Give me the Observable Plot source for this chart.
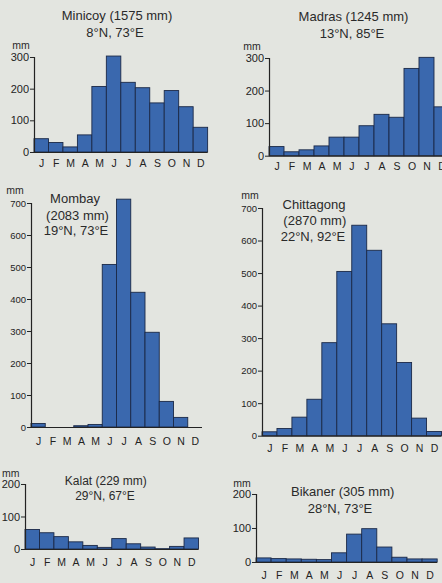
<!DOCTYPE html>
<html><head><meta charset="utf-8">
<script src="https://cdn.jsdelivr.net/npm/d3@7"></script>
<script src="https://cdn.jsdelivr.net/npm/@observablehq/plot@0.6"></script>
<style>
html,body{margin:0;padding:0;background:#e3e5e0;}
#page{position:relative;width:442px;height:583px;overflow:hidden;background:#e3e5e0;font-family:"Liberation Sans",Arial,sans-serif;color:#2a2a2a;}
.lbl{position:absolute;white-space:nowrap;transform:translateX(-50%);line-height:1;}
.plot{position:absolute;}
</style></head><body><div id="page"></div>
<script>
// ---- data ----
const monthLabels = ["J","F","M","A","M","J","J","A","S","O","N","D"];
const stationNames = ["Minicoy","Madras","Mombay","Chittagong","Kalat","Bikaner"];
const stationTotals = ["1575 mm","1245 mm","2083 mm","2870 mm","229 mm","305 mm"];
const stationCoords = ["8°N, 73°E","13°N, 85°E","19°N, 73°E","22°N, 92°E","29°N, 67°E","28°N, 73°E"];
const minicoy    = [42, 30, 16, 54, 207, 303, 220, 203, 155, 194, 143, 78];
const madras     = [28, 12, 18, 30, 57, 57, 92, 127, 118, 268, 302, 150];
const mombay     = [11, 0, 0, 4, 8, 508, 712, 421, 296, 80, 30, 0];
const chittagong = [12, 22, 57, 112, 286, 505, 647, 570, 344, 225, 54, 13];
const kalat      = [60, 50, 38, 22, 11, 5, 32, 16, 6, 1, 8, 34];
const bikaner    = [12, 10, 9, 8, 7, 27, 82, 98, 44, 14, 9, 9];
const ticks300 = [0, 100, 200, 300];
const ticks700 = [0, 100, 200, 300, 400, 500, 600, 700];
const ticks200 = [0, 100, 200];
const series = [minicoy, madras, mombay, chittagong, kalat, bikaner];

// ---- layout (page pixel positions) ----
const layout = [
  {ax: 34,    bw: 14.47, y0: 152,   yTop: 57,    top: 300, ticks: ticks300, tfs: 11,  mpad: 7, fs: 13,
   title: [[117, 15], [115, 32.5]], mm: [21, 45], split: false},
  {ax: 268.7, bw: 15,    y0: 155.7, yTop: 58,    top: 300, ticks: ticks300, tfs: 11,  mpad: 6, fs: 13,
   title: [[353.5, 16.5], [352, 33]], mm: [252, 46.5], split: false},
  {ax: 30.5,  bw: 14.25, y0: 427.3, yTop: 203.3, top: 700, ticks: ticks700, tfs: 9.5, mpad: 10, fs: 13,
   title: [[75, 198.3], [77.5, 215], [76, 230]], mm: [15, 190.5], split: true},
  {ax: 261.5, bw: 14.96, y0: 436,   yTop: 208.3, top: 700, ticks: ticks700, tfs: 9.5, mpad: 8, fs: 13,
   title: [[314, 204.3], [314.8, 220], [313, 236.7]], mm: [250, 195.7], split: true},
  {ax: 24.5,  bw: 14.46, y0: 549,   yTop: 484,   top: 200, ticks: ticks200, tfs: 11,  mpad: 9, fs: 12,
   title: [[105.8, 481.2], [105, 495.5]], mm: [10.8, 473.3], split: false},
  {ax: 256,   bw: 15.1,  y0: 562,   yTop: 494,   top: 200, ticks: ticks200, tfs: 11,  mpad: 9, fs: 13,
   title: [[342.7, 491.7], [340, 508.3]], mm: [242, 483.3], split: false}
];

const page = document.getElementById("page");
const ink = "#232323";

function addLabel(text, cx, cy, fs) {
  const d = document.createElement("div");
  d.className = "lbl";
  d.textContent = text;
  d.style.fontSize = fs + "px";
  d.style.left = cx + "px";
  d.style.top = (cy - fs / 2) + "px";
  page.appendChild(d);
}

series.forEach((values, k) => {
  const L = layout[k];
  const mL = 30, mR = 2, mT = 14, mB = 24;
  const width = mL + 12 * L.bw + mR;
  const height = (L.y0 - L.yTop) + mT + mB;
  const data = values.map((v, i) => ({i, v}));
  const svg = Plot.plot({
    width, height,
    marginLeft: mL, marginRight: mR, marginTop: mT, marginBottom: mB,
    style: {background: "transparent", fontFamily: "Liberation Sans, Arial, sans-serif", color: ink, overflow: "visible"},
    x: {domain: [0, 12]},
    y: {domain: [0, L.top]},
    marks: [
      Plot.rect(data, {x1: "i", x2: d => d.i + 1, y1: () => 0, y2: "v",
        fill: "#3a68ae", stroke: "#1b2947", strokeWidth: 0.9}),
      Plot.ruleY([0], {x1: 0, x2: 12, stroke: ink, strokeWidth: 1.2}),
      Plot.ruleX([0], {y1: 0, y2: L.top, stroke: ink, strokeWidth: 1.2}),
      Plot.axisY({ticks: L.ticks, tickSize: 4, tickPadding: 1.5, fontSize: L.tfs, label: null}),
      Plot.axisX({ticks: d3.range(12).map(i => i + 0.5), tickFormat: t => monthLabels[Math.floor(t)],
        tickSize: 0, tickPadding: L.mpad, fontSize: 10.5, label: null})
    ]
  });
  svg.classList.add("plot");
  svg.style.left = (L.ax - mL) + "px";
  svg.style.top = (L.yTop - mT) + "px";
  page.appendChild(svg);

  const name = stationNames[k], total = "(" + stationTotals[k] + ")", coord = stationCoords[k];
  if (L.split) {
    addLabel(name, L.title[0][0], L.title[0][1], L.fs);
    addLabel(total, L.title[1][0], L.title[1][1], L.fs);
    addLabel(coord, L.title[2][0], L.title[2][1], L.fs);
  } else {
    addLabel(name + " " + total, L.title[0][0], L.title[0][1], L.fs);
    addLabel(coord, L.title[1][0], L.title[1][1], L.fs);
  }
  addLabel("mm", L.mm[0], L.mm[1], 10.5);
});
</script></body></html>
